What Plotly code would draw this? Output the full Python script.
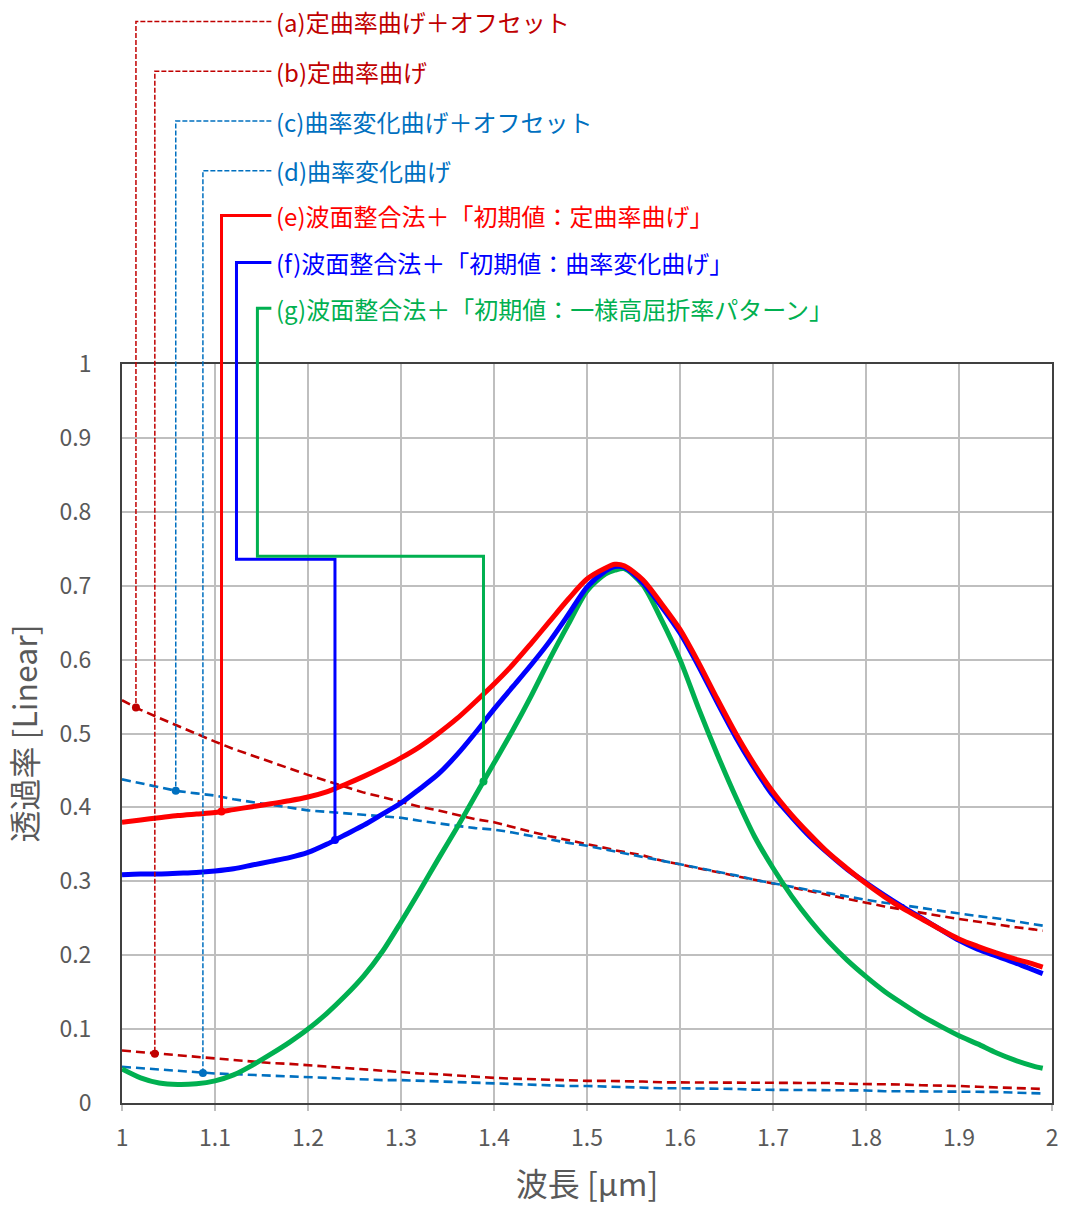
import numpy as np
import plotly.graph_objects as go

# Wavelength samples [um]
wavelength = [1.00, 1.02, 1.04, 1.06, 1.08, 1.10, 1.12, 1.14, 1.16, 1.18,
              1.20, 1.22, 1.24, 1.26, 1.28, 1.30, 1.32, 1.34, 1.36, 1.38,
              1.40, 1.42, 1.44, 1.46, 1.48, 1.50, 1.52, 1.53, 1.54, 1.56,
              1.58, 1.60, 1.62, 1.64, 1.66, 1.68, 1.70, 1.72, 1.74, 1.76,
              1.78, 1.80, 1.82, 1.84, 1.86, 1.88, 1.90, 1.92, 1.94, 1.96,
              1.98, 1.99]

# (a) constant curvature bend + offset
t_a = [0.545, 0.532, 0.521, 0.510, 0.499, 0.489, 0.479, 0.470, 0.461, 0.452,
       0.444, 0.436, 0.428, 0.420, 0.414, 0.407, 0.401, 0.396, 0.390, 0.384,
       0.380, 0.373, 0.367, 0.361, 0.356, 0.351, 0.345, 0.342, 0.340, 0.335,
       0.328, 0.323, 0.318, 0.313, 0.307, 0.302, 0.297, 0.292, 0.287, 0.282,
       0.276, 0.271, 0.266, 0.262, 0.258, 0.253, 0.249, 0.245, 0.242, 0.238,
       0.235, 0.233]
# (b) constant curvature bend
t_b = [0.071, 0.069, 0.066, 0.064, 0.062, 0.060, 0.058, 0.056, 0.054, 0.053,
       0.051, 0.049, 0.047, 0.045, 0.044, 0.042, 0.040, 0.039, 0.037, 0.035,
       0.034, 0.033, 0.032, 0.031, 0.031, 0.030, 0.030, 0.030, 0.029, 0.029,
       0.028, 0.028, 0.028, 0.028, 0.028, 0.028, 0.028, 0.027, 0.027, 0.027,
       0.026, 0.026, 0.025, 0.025, 0.024, 0.024, 0.023, 0.022, 0.021, 0.021,
       0.020, 0.019]
# (c) varying curvature bend + offset
t_c = [0.438, 0.433, 0.428, 0.422, 0.419, 0.416, 0.411, 0.407, 0.403, 0.400,
       0.396, 0.394, 0.392, 0.390, 0.388, 0.386, 0.382, 0.378, 0.375, 0.372,
       0.370, 0.366, 0.361, 0.357, 0.352, 0.348, 0.343, 0.340, 0.338, 0.333,
       0.328, 0.323, 0.318, 0.313, 0.308, 0.302, 0.297, 0.293, 0.288, 0.284,
       0.279, 0.275, 0.271, 0.268, 0.264, 0.260, 0.256, 0.253, 0.250, 0.246,
       0.242, 0.240]
# (d) varying curvature bend
t_d = [0.049, 0.047, 0.045, 0.043, 0.041, 0.040, 0.039, 0.038, 0.036, 0.035,
       0.034, 0.033, 0.033, 0.032, 0.031, 0.031, 0.030, 0.029, 0.028, 0.027,
       0.027, 0.026, 0.025, 0.024, 0.023, 0.023, 0.022, 0.022, 0.021, 0.021,
       0.020, 0.020, 0.020, 0.019, 0.019, 0.018, 0.018, 0.018, 0.018, 0.017,
       0.017, 0.017, 0.016, 0.016, 0.016, 0.016, 0.016, 0.015, 0.015, 0.014,
       0.014, 0.013]
# (e) wavefront matching, initial: constant curvature bend
t_e = [0.380, 0.383, 0.386, 0.389, 0.391, 0.393, 0.397, 0.401, 0.405, 0.409,
       0.414, 0.421, 0.431, 0.442, 0.454, 0.467, 0.482, 0.500, 0.520, 0.543,
       0.567, 0.593, 0.622, 0.652, 0.682, 0.709, 0.724, 0.729, 0.727, 0.708,
       0.676, 0.641, 0.596, 0.547, 0.500, 0.458, 0.421, 0.390, 0.363, 0.338,
       0.317, 0.297, 0.279, 0.263, 0.249, 0.235, 0.222, 0.212, 0.203, 0.195,
       0.188, 0.184]
# (f) wavefront matching, initial: varying curvature bend
t_f = [0.309, 0.310, 0.310, 0.311, 0.312, 0.314, 0.317, 0.322, 0.327, 0.332,
       0.339, 0.350, 0.363, 0.376, 0.391, 0.406, 0.425, 0.445, 0.471, 0.501,
       0.533, 0.563, 0.593, 0.625, 0.661, 0.698, 0.720, 0.726, 0.725, 0.704,
       0.672, 0.636, 0.591, 0.542, 0.495, 0.453, 0.416, 0.387, 0.360, 0.337,
       0.316, 0.298, 0.281, 0.265, 0.250, 0.235, 0.220, 0.208, 0.199, 0.190,
       0.180, 0.175]
# (g) wavefront matching, initial: uniform high-index pattern
t_g = [0.046, 0.034, 0.027, 0.025, 0.026, 0.030, 0.038, 0.051, 0.066, 0.082,
       0.100, 0.121, 0.145, 0.172, 0.205, 0.245, 0.287, 0.330, 0.372, 0.416,
       0.460, 0.504, 0.551, 0.601, 0.648, 0.693, 0.716, 0.721, 0.723, 0.701,
       0.654, 0.600, 0.534, 0.472, 0.414, 0.361, 0.318, 0.280, 0.247, 0.218,
       0.193, 0.171, 0.151, 0.134, 0.118, 0.104, 0.091, 0.080, 0.068, 0.058,
       0.050, 0.047]

labels = [
    "(a)定曲率曲げ＋オフセット",
    "(b)定曲率曲げ",
    "(c)曲率変化曲げ＋オフセット",
    "(d)曲率変化曲げ",
    "(e)波面整合法＋「初期値：定曲率曲げ」",
    "(f)波面整合法＋「初期値：曲率変化曲げ」",
    "(g)波面整合法＋「初期値：一様高屈折率パターン」",
]

DARK_RED = "#C00000"
STEEL_BLUE = "#0070C0"
RED = "#FF0000"
BLUE = "#0000FF"
GREEN = "#00B050"
GRAY_TEXT = "#595959"
FONT = "Noto Sans CJK JP"

X0, X1 = 1.0, 2.0
Y0, Y1 = 0.0, 1.0


def px(x):
    return (x - X0) / (X1 - X0)


def py(y):
    return (y - Y0) / (Y1 - Y0)


series = [
    (t_a, DARK_RED, "dashed"),
    (t_b, DARK_RED, "dashed"),
    (t_c, STEEL_BLUE, "dashed"),
    (t_d, STEEL_BLUE, "dashed"),
    (t_e, RED, "solid"),
    (t_f, BLUE, "solid"),
    (t_g, GREEN, "solid"),
]

fig = go.Figure()

# dashed curves first, then the solid ones on top
for vals, col, style in series[:4]:
    fig.add_trace(go.Scatter(x=wavelength, y=vals, mode="lines",
                             line=dict(color=col, width=2.6, dash="9px,5px"),
                             hoverinfo="skip", showlegend=False))
for vals, col, style in series[4:][::-1]:
    fig.add_trace(go.Scatter(x=wavelength, y=vals, mode="lines",
                             line=dict(color=col, width=5, shape="spline", smoothing=0.8),
                             hoverinfo="skip", showlegend=False))

# leader lines from each label to its curve (paper coordinates, y above 1 = above plot)
label_y = [1.4636, 1.3962, 1.3288, 1.2615, 1.2008, 1.1375, 1.0755]
label_x = 0.1606
anchor_x = [1.015, 1.0353, 1.0578, 1.087, 1.107, 1.229, 1.3887]
elbow_x = [1.015, 1.0353, 1.0578, 1.087, 1.107, 1.1231, 1.1456]
step_y = [None, None, None, None, None, 0.7358, 0.740]
colors = [DARK_RED, DARK_RED, STEEL_BLUE, STEEL_BLUE, RED, BLUE, GREEN]

shapes = []
dot_x, dot_y, dot_c = [], [], []
for i in range(7):
    vals = series[i][0]
    ax = anchor_x[i]
    ay = float(np.interp(ax, wavelength, vals))
    if i < 4:
        ln = dict(color=colors[i], width=1.5, dash="5px,2px")
    else:
        ln = dict(color=colors[i], width=3)
    pts = [(label_x, label_y[i]), (px(elbow_x[i]), label_y[i])]
    if step_y[i] is not None:
        pts += [(px(elbow_x[i]), step_y[i]), (px(ax), step_y[i])]
    pts += [(px(ax), py(ay))]
    path = "M " + " L ".join(f"{x},{y}" for x, y in pts)
    shapes.append(dict(type="path", xref="paper", yref="paper", path=path,
                       line=ln, layer="above"))
    dot_x.append(ax)
    dot_y.append(ay)
    dot_c.append(colors[i])

fig.add_trace(go.Scatter(x=dot_x, y=dot_y, mode="markers",
                         marker=dict(color=dot_c, size=8),
                         cliponaxis=False, hoverinfo="skip", showlegend=False))

annotations = []
for i, txt in enumerate(labels):
    annotations.append(dict(text=txt, xref="paper", yref="paper",
                            x=0.1638, y=label_y[i], xanchor="left", yanchor="middle",
                            showarrow=False,
                            font=dict(family=FONT, size=24, color=colors[i])))

fig.update_layout(
    width=1070, height=1209,
    margin=dict(l=122, r=14, t=364, b=103),
    paper_bgcolor="white", plot_bgcolor="white",
    shapes=shapes, annotations=annotations,
    font=dict(family=FONT, color=GRAY_TEXT),
)

fig.update_xaxes(
    range=[X0, X1], dtick=0.1, tick0=1.0, tickformat="~g",
    showgrid=True, gridcolor="#BFBFBF", gridwidth=2,
    showline=True, linecolor="#404040", linewidth=2, mirror=True,
    ticks="outside", ticklen=6, tickcolor="#BFBFBF", tickwidth=2,
    tickfont=dict(family=FONT, size=23, color=GRAY_TEXT),
    ticklabelstandoff=7,
    zeroline=False,
    title=dict(text="波長 [μm]", font=dict(family=FONT, size=32, color=GRAY_TEXT),
               standoff=22),
)
fig.update_yaxes(
    range=[Y0, Y1], dtick=0.1, tick0=0, tickformat="~g",
    showgrid=True, gridcolor="#BFBFBF", gridwidth=2,
    showline=True, linecolor="#404040", linewidth=2, mirror=True,
    ticks="", tickfont=dict(family=FONT, size=23, color=GRAY_TEXT),
    ticklabelstandoff=24,
    zeroline=False,
    title=dict(text="透過率 [Linear]", font=dict(family=FONT, size=32, color=GRAY_TEXT),
               standoff=12),
)

fig.write_html("out.html")
